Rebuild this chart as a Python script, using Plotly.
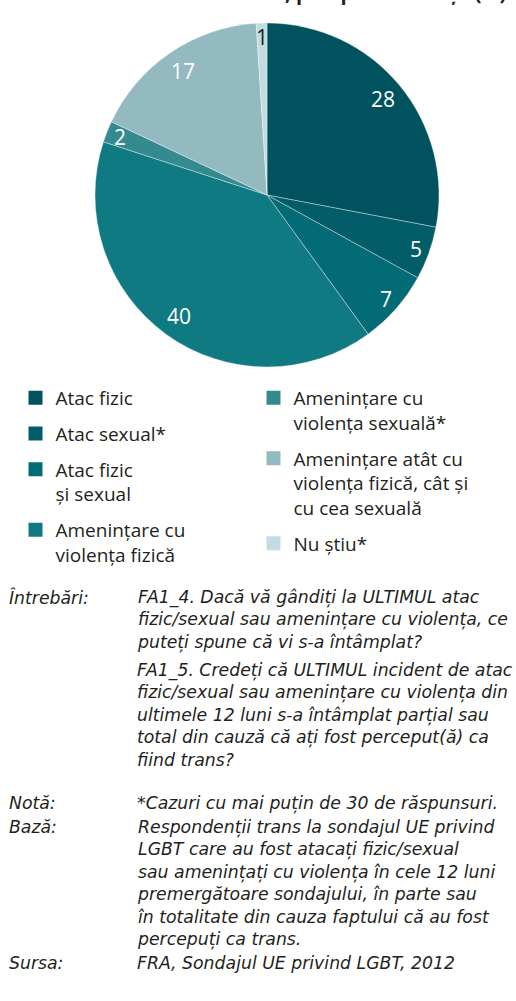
import math
import plotly.graph_objects as go

# ---- data ----
categories = [
    "Atac fizic",
    "Atac sexual*",
    "Atac fizic<br>și sexual",
    "Amenințare cu<br>violența fizică",
    "Amenințare cu<br>violența sexuală*",
    "Amenințare atât cu<br>violența fizică, cât și<br>cu cea sexuală",
    "Nu știu*",
]
values = [28, 5, 7, 40, 2, 17, 1]
colors = ["#00535e", "#025d69", "#036b75", "#107a83", "#358a90", "#93b9c1", "#c3dce0"]
text_colors = ["#ffffff"] * 6 + ["#231f20"]
legend_column = ["legend", "legend", "legend", "legend", "legend2", "legend2", "legend2"]

title_text = "ultimul incident, pe tip de violență (%)"

note_labels = ["Întrebări:", "Notă:", "Bază:", "Sursa:"]
note_blocks = [
    [["FA1_4. Dacă vă gândiți la ULTIMUL atac",
      "fizic/sexual sau amenințare cu violența, ce",
      "puteți spune că vi s-a întâmplat?"],
     ["FA1_5. Credeți că ULTIMUL incident de atac",
      "fizic/sexual sau amenințare cu violența din",
      "ultimele 12 luni s-a întâmplat parțial sau",
      "total din cauză că ați fost perceput(ă) ca",
      "fiind trans?"]],
    [["*Cazuri cu mai puțin de 30 de răspunsuri."]],
    [["Respondenții trans la sondajul UE privind",
      "LGBT care au fost atacați fizic/sexual",
      "sau amenințați cu violența în cele 12 luni",
      "premergătoare sondajului, în parte sau",
      "în totalitate din cauza faptului că au fost",
      "percepuți ca trans."]],
    [["FRA, Sondajul UE privind LGBT, 2012"]],
]

# ---- layout helpers (page pixels -> paper coords) ----
W, H = 516, 1001
FONT = "Open Sans"
NOTE_FONT = "DejaVu Sans"
TXT = "#231f20"

def px(x):
    return x / W

def py(y):
    return 1 - y / H

CX, CY, R = 267, 195, 172

fig = go.Figure()
fig.add_trace(go.Pie(
    values=values,
    labels=categories,
    sort=False,
    direction="clockwise",
    rotation=0,
    marker=dict(colors=colors, line=dict(color="rgba(255,255,255,0.6)", width=0.6)),
    textinfo="none",
    domain=dict(x=[px(CX - R), px(CX + R)], y=[py(CY + R), py(CY - R)]),
    showlegend=False,
    hoverinfo="label+value",
))

for cat, col, lg in zip(categories, colors, legend_column):
    fig.add_trace(go.Scatter(
        x=[None], y=[None], mode="markers",
        marker=dict(symbol="square", size=14, color=col),
        name=cat, legendgroup=cat, legend=lg, showlegend=True,
    ))

leg_common = dict(
    font=dict(family=FONT, size=19, color=TXT),
    tracegroupgap=8, bgcolor="rgba(0,0,0,0)", valign="top",
    itemwidth=30, yanchor="top", xanchor="left", traceorder="grouped",
)
fig.update_layout(
    legend=dict(x=px(22 - 6.5), y=py(379), **leg_common),
    legend2=dict(x=px(260 - 6.5), y=py(379), **leg_common),
)

ann = []
# value labels placed along each slice's bisector, just inside the rim
total = sum(values)
cum = 0
for v, tc in zip(values, text_colors):
    ang = 2 * math.pi * (cum + v / 2) / total
    cum += v
    rr = R - (22 if v >= 10 else 14)
    lx = CX + rr * math.sin(ang)
    ly = CY - rr * math.cos(ang)
    ann.append(dict(text=str(v), x=px(lx), y=py(ly), xref="paper", yref="paper",
                    xanchor="center", yanchor="middle", showarrow=False,
                    font=dict(family=FONT, size=21, color=tc)))

ann.append(dict(text=f"<b>{title_text}</b>", x=px(508), y=py(7.5), xref="paper", yref="paper",
                xanchor="right", yanchor="bottom", showarrow=False,
                font=dict(family=FONT, size=20, color=TXT)))

NOTE_SIZE = 17.3
block_starts = [[597, 670], [803], [827], [963]]
for lab, blocks, starts in zip(note_labels, note_blocks, block_starts):
    ann.append(dict(text=f"<i>{lab}</i>", x=px(7), y=py(starts[0] - 12.5), xref="paper", yref="paper",
                    xanchor="left", yanchor="top", align="left", showarrow=False,
                    font=dict(family=NOTE_FONT, size=NOTE_SIZE, color=TXT)))
    for lines, y0 in zip(blocks, starts):
        ann.append(dict(text="<i>" + "<br>".join(lines) + "</i>", x=px(135), y=py(y0 - 12.5),
                        xref="paper", yref="paper",
                        xanchor="left", yanchor="top", align="left", showarrow=False,
                        font=dict(family=NOTE_FONT, size=NOTE_SIZE, color=TXT)))

fig.update_layout(
    width=W, height=H,
    margin=dict(l=0, r=0, t=0, b=0),
    paper_bgcolor="white", plot_bgcolor="white",
    xaxis=dict(visible=False), yaxis=dict(visible=False),
    annotations=ann,
)

fig.write_html("out.html", config={"displayModeBar": False},
               post_script="document.body.style.margin='0';")
